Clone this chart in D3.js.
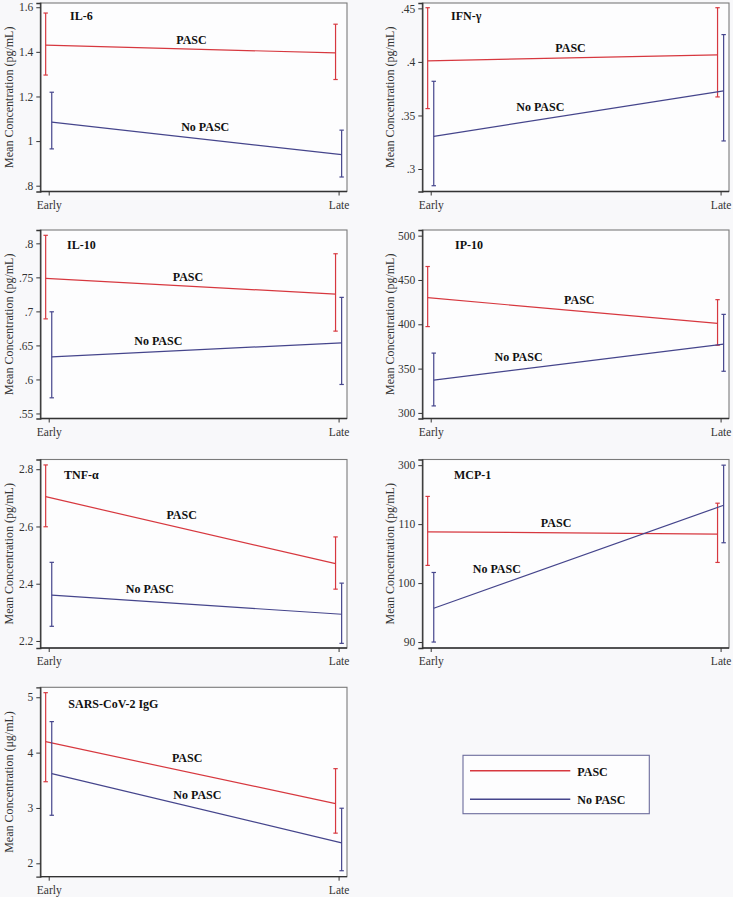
<!DOCTYPE html>
<html>
<head>
<meta charset="utf-8">
<script src="https://cdn.jsdelivr.net/npm/d3@7"></script>
<style>
  html, body { margin: 0; padding: 0; background: #f8f8fa; }
  svg { display: block; }
</style>
</head>
<body>
<div id="chart"></div>
<script>
// ---------------- DATA ----------------
const timepoints = ["Early", "Late"];
const groups = ["PASC", "No PASC"];
const analytes = ["IL-6", "IFN-γ", "IL-10", "IP-10", "TNF-α", "MCP-1", "SARS-CoV-2 IgG"];
const units = ["pg/mL", "pg/mL", "pg/mL", "pg/mL", "pg/mL", "pg/mL", "μg/mL"];

// PASC: mean and 95% CI, [Early, Late]
const pascMean = [[1.43, 1.395], [0.401, 0.4065], [0.7485, 0.7254], [430, 401], [2.704, 2.470], [108.7, 108.3], [4.197, 3.078]];
const pascLow  = [[1.296, 1.276], [0.3564, 0.3673], [0.689, 0.671], [397.4, 376.4], [2.599, 2.381], [103.0, 103.5], [3.474, 2.545]];
const pascHigh = [[1.574, 1.524], [0.4506, 0.4506], [0.8118, 0.7847], [465.2, 427.8], [2.815, 2.5635], [114.7, 113.55], [5.083, 3.71]];

// No PASC: mean and 95% CI, [Early, Late]
const noMean = [[1.085, 0.939], [0.3305, 0.3729], [0.6332, 0.6538], [337, 377.6], [2.36, 2.2933], [95.73, 113.2], [3.62, 2.37]];
const noLow  = [[0.965, 0.839], [0.2844, 0.3262], [0.573, 0.5926], [307.9, 347], [2.2512, 2.1916], [90.0, 106.84], [2.868, 1.866]];
const noHigh = [[1.219, 1.049], [0.3819, 0.4255], [0.6994, 0.7206], [367.5, 411.2], [2.4747, 2.402], [101.8, 120.0], [4.56, 2.995]];

// Y axis ranges, tick values and tick labels
const yDomains = [[0.774, 1.619], [0.279, 0.455], [0.5426, 0.8196], [293.7, 506.4], [2.1754, 2.834], [88.99, 120.96], [1.758, 5.18]];
const yTickValues = [[0.8, 1, 1.2, 1.4, 1.6], [0.3, 0.35, 0.4, 0.45], [0.55, 0.6, 0.65, 0.7, 0.75, 0.8], [300, 350, 400, 450, 500], [2.2, 2.4, 2.6, 2.8], [90, 100, 110, 120], [2, 3, 4, 5]];
const yTickLabels = [[".8", "1", "1.2", "1.4", "1.6"], [".3", ".35", ".4", ".45"], [".55", ".6", ".65", ".7", ".75", ".8"], ["300", "350", "400", "450", "500"], ["2.2", "2.4", "2.6", "2.8"], ["90", "100", "110", "300"], ["2", "3", "4", "5"]];

// In-plot group label positions, in data units [x (1=Early, 2=Late), y]
const pascLabelAt = [[1.44, 1.453], [1.43, 0.413], [1.428, 0.751], [1.46, 427.8], [1.406, 2.64], [1.38, 110.2], [1.425, 3.908]];
const noLabelAt   = [[1.457, 1.062], [1.295, 0.3576], [1.295, 0.6568], [1.22, 363], [1.266, 2.3825], [1.145, 102.4], [1.43, 3.23]];

// ---------------- LAYOUT ----------------
const W = 733, H = 897;
const FONT = "'Liberation Serif', 'DejaVu Serif', serif";
const colX = [[40.3, 347], [422.3, 729]];
const rowY = [[3, 191.5], [230, 418.5], [459.5, 648], [687.3, 876.7]];
const titleOffset = [[29.7, 13], [28.7, 13], [26.7, 15], [32.7, 15], [23.7, 15], [31.7, 15], [28, 17]];
const RED = "#d7383f", NAVY = "#45458c";
const groupOffset = 0.0105;

const svg = d3.select("#chart").append("svg")
  .attr("width", W).attr("height", H)
  .attr("font-family", FONT);
svg.append("rect").attr("width", W).attr("height", H).attr("fill", "#f8f8fa");

function styleText(sel, size, weight) {
  sel.attr("font-family", FONT).attr("font-size", size)
    .attr("font-weight", weight || "normal")
    .style("font-family", FONT).style("font-size", size + "px");
}

analytes.forEach((name, i) => {
  const col = i % 2, row = Math.floor(i / 2);
  const [x0, x1] = colX[col];
  const [y0, y1] = rowY[row];
  const g = svg.append("g");

  const x = d3.scaleLinear().domain([0.971, 2.029]).range([x0, x1]);
  const y = d3.scaleLinear().domain(yDomains[i]).range([y1, y0]);

  // plot region
  g.append("rect").attr("x", x0).attr("y", y0).attr("width", x1 - x0).attr("height", y1 - y0)
    .attr("fill", "#fdfdfe").attr("stroke", "#7a7a7a").attr("stroke-width", 1.1);

  // y axis
  const yAxis = d3.axisLeft(y).tickValues(yTickValues[i])
    .tickFormat((d, k) => yTickLabels[i][k]).tickSize(4).tickPadding(3);
  const ya = g.append("g").attr("transform", `translate(${x0},0)`).call(yAxis);
  ya.attr("font-family", FONT);
  ya.select(".domain").attr("stroke", "#333").attr("stroke-width", 1.3);
  ya.selectAll(".tick line").attr("stroke", "#333");
  styleText(ya.selectAll(".tick text").attr("fill", "#333"), 11.5);

  // x axis
  const xAxis = d3.axisBottom(x).tickValues([1, 2])
    .tickFormat((d) => timepoints[d - 1]).tickSize(4).tickPadding(5);
  const xa = g.append("g").attr("transform", `translate(0,${y1})`).call(xAxis);
  xa.attr("font-family", FONT);
  xa.select(".domain").attr("stroke", "#333").attr("stroke-width", 1.3).attr("d", `M${x0},0H${x1}`);
  xa.selectAll(".tick line").attr("stroke", "#333");
  styleText(xa.selectAll(".tick text").attr("fill", "#333"), 11.5);

  // y title
  const tx = col === 0 ? 8.5 : 390;
  styleText(g.append("text")
    .attr("transform", `translate(${tx},${(y0 + y1) / 2}) rotate(-90)`)
    .attr("text-anchor", "middle").attr("dominant-baseline", "central")
    .attr("fill", "#333")
    .text(`Mean Concentration (${units[i]})`), 12);

  // series
  const series = [
    { mean: pascMean[i], lo: pascLow[i], hi: pascHigh[i], color: RED, off: -groupOffset },
    { mean: noMean[i], lo: noLow[i], hi: noHigh[i], color: NAVY, off: groupOffset }
  ];
  series.forEach(s => {
    const pts = s.mean.map((v, k) => [k + 1 + s.off, v]);
    g.append("path")
      .attr("d", d3.line().x(d => x(d[0])).y(d => y(d[1]))(pts))
      .attr("fill", "none").attr("stroke", s.color).attr("stroke-width", 1.2);
    s.mean.forEach((v, k) => {
      const cx = x(k + 1 + s.off);
      const ylo = y(s.lo[k]), yhi = y(s.hi[k]);
      g.append("line").attr("x1", cx).attr("x2", cx).attr("y1", ylo).attr("y2", yhi)
        .attr("stroke", s.color).attr("stroke-width", 1.2);
      [ylo, yhi].forEach(yy => {
        g.append("line").attr("x1", cx - 2.2).attr("x2", cx + 2.2).attr("y1", yy).attr("y2", yy)
          .attr("stroke", s.color).attr("stroke-width", 1.2);
      });
    });
  });

  // panel title
  styleText(g.append("text").attr("x", x0 + titleOffset[i][0]).attr("y", y0 + titleOffset[i][1])
    .attr("dominant-baseline", "central").attr("fill", "#111").text(name), 12, "bold");

  // group labels
  styleText(g.append("text").attr("x", x(pascLabelAt[i][0])).attr("y", y(pascLabelAt[i][1]))
    .attr("dominant-baseline", "central").attr("fill", "#111").text(groups[0]), 12, "bold");
  styleText(g.append("text").attr("x", x(noLabelAt[i][0])).attr("y", y(noLabelAt[i][1]))
    .attr("dominant-baseline", "central").attr("fill", "#111").text(groups[1]), 12, "bold");
});

// legend
const lg = svg.append("g");
lg.append("rect").attr("x", 463).attr("y", 755.3).attr("width", 186.3).attr("height", 58.4)
  .attr("fill", "#fdfdfe").attr("stroke", "#6c6c9c").attr("stroke-width", 1.1);
groups.forEach((gname, k) => {
  const yy = 770.7 + k * 28.6;
  lg.append("line").attr("x1", 470).attr("x2", 570.3).attr("y1", yy).attr("y2", yy)
    .attr("stroke", k === 0 ? RED : NAVY).attr("stroke-width", 1.4);
  styleText(lg.append("text").attr("x", 577.3).attr("y", yy + 1).attr("dominant-baseline", "central")
    .attr("fill", "#111").text(gname), 12, "bold");
});
</script>
</body>
</html>
